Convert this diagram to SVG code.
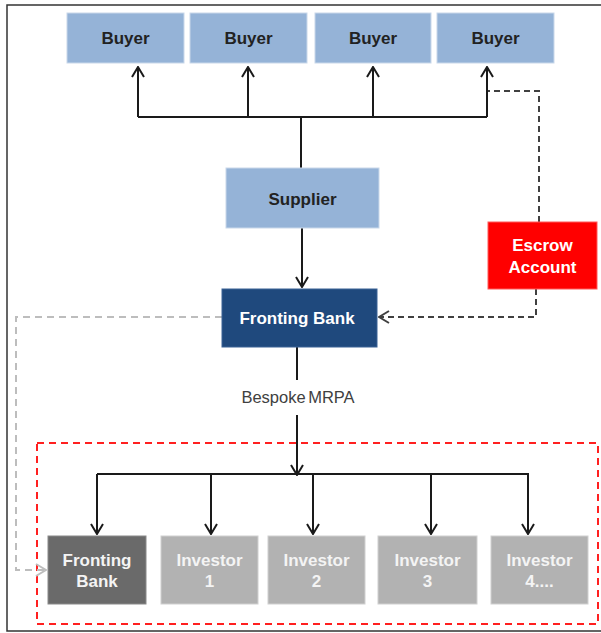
<svg xmlns="http://www.w3.org/2000/svg" width="601" height="633" viewBox="0 0 601 633">
<style>
.t{font-family:"Liberation Sans",Arial,sans-serif;font-weight:bold;font-size:17px;text-anchor:middle;dominant-baseline:central}
.dk{fill:#222222}
.wh{fill:#FFFFFF}
.lw{fill:#F4F4F4}
.buyer{fill:#95B3D7;stroke:#C9D8EA;stroke-width:1}
.inv{fill:#B2B2B2;stroke:#D0D0D0;stroke-width:1}
.solid{fill:none;stroke:#1A1A1A;stroke-width:2}
.dash{fill:none;stroke:#404040;stroke-width:2;stroke-dasharray:6,4}
.gdash{fill:none;stroke:#BDBDBD;stroke-width:2;stroke-dasharray:7,5}
</style>
<defs>
<marker id="ah" viewBox="0 0 12 14" refX="11" refY="7" markerWidth="12" markerHeight="14" markerUnits="userSpaceOnUse" orient="auto">
<path d="M1,1 L11,7 L1,13" fill="none" stroke="#1A1A1A" stroke-width="2"/>
</marker>
<marker id="ahd" viewBox="0 0 12 14" refX="11" refY="7" markerWidth="12" markerHeight="14" markerUnits="userSpaceOnUse" orient="auto">
<path d="M1,1 L11,7 L1,13" fill="none" stroke="#404040" stroke-width="2"/>
</marker>
<marker id="ahg" viewBox="0 0 12 14" refX="11" refY="7" markerWidth="12" markerHeight="14" markerUnits="userSpaceOnUse" orient="auto">
<path d="M1,1 L11,7 L1,13" fill="none" stroke="#BDBDBD" stroke-width="2"/>
</marker>
</defs>
<rect x="0" y="0" width="601" height="633" fill="#FFFFFF"/>
<path d="M606,5 H7 V631 H606" fill="none" stroke="#333333" stroke-width="1.5"/>
<rect id="investor-pool" x="37" y="443" width="561" height="181" fill="none" stroke="#FF2020" stroke-width="2" stroke-dasharray="7,5"/>

<g id="connectors">
<path class="solid" d="M138,117 H487"/>
<path class="solid" d="M301,168 V117"/>
<path class="solid" d="M138,117 V67" marker-end="url(#ah)"/>
<path class="solid" d="M248,117 V67" marker-end="url(#ah)"/>
<path class="solid" d="M373,117 V67" marker-end="url(#ah)"/>
<path class="solid" d="M487,117 V67" marker-end="url(#ah)"/>
<path class="solid" d="M302,228 V287" marker-end="url(#ah)"/>
<path class="dash" d="M539,222 V91 H488"/>
<path class="dash" d="M536,289 V317 H379" marker-end="url(#ahd)"/>
<path class="gdash" d="M222,317 H16 V570 H46" marker-end="url(#ahg)"/>
<path class="solid" d="M297,347 V380"/>
<path class="solid" d="M297,415 V475" marker-end="url(#ah)"/>
<path class="solid" d="M97,474 H529"/>
<path class="solid" d="M97,474 V534" marker-end="url(#ah)"/>
<path class="solid" d="M211,474 V534" marker-end="url(#ah)"/>
<path class="solid" d="M313,474 V534" marker-end="url(#ah)"/>
<path class="solid" d="M431,474 V534" marker-end="url(#ah)"/>
<path class="solid" d="M528,474 V534" marker-end="url(#ah)"/>
<text x="298" y="397" font-family="'Liberation Sans',Arial,sans-serif" font-size="16.5" word-spacing="-2" fill="#404040" text-anchor="middle" dominant-baseline="central">Bespoke MRPA</text>
</g>

<g id="buyer1"><rect class="buyer" x="67" y="13" width="117" height="50"/><text class="t dk" x="125.5" y="38">Buyer</text></g>
<g id="buyer2"><rect class="buyer" x="190" y="13" width="117" height="50"/><text class="t dk" x="248.5" y="38">Buyer</text></g>
<g id="buyer3"><rect class="buyer" x="315" y="13" width="116" height="50"/><text class="t dk" x="373" y="38">Buyer</text></g>
<g id="buyer4"><rect class="buyer" x="437" y="13" width="117" height="50"/><text class="t dk" x="495.5" y="38">Buyer</text></g>

<g id="supplier"><rect class="buyer" x="226" y="168" width="153" height="60"/><text class="t dk" x="302.5" y="199">Supplier</text></g>

<g id="fronting-bank"><rect x="222" y="289" width="155" height="58" fill="#1F497D" stroke="#3A6296" stroke-width="1"/><text class="t wh" x="297" y="318">Fronting Bank</text></g>

<g id="escrow"><rect x="488" y="222" width="109" height="67" fill="#FF0000" stroke="#FF5A5A" stroke-width="1"/><text class="t wh" x="542.5" y="245">Escrow</text><text class="t wh" x="542.5" y="267">Account</text></g>

<g id="fronting-bank-2"><rect x="48" y="536" width="98" height="68" fill="#6A6A6A" stroke="#8A8A8A" stroke-width="1"/><text class="t lw" x="97" y="560">Fronting</text><text class="t lw" x="97" y="581">Bank</text></g>
<g id="investor1"><rect class="inv" x="161" y="536" width="97" height="68"/><text class="t lw" x="209.5" y="560">Investor</text><text class="t lw" x="209.5" y="581">1</text></g>
<g id="investor2"><rect class="inv" x="268" y="536" width="97" height="68"/><text class="t lw" x="316.5" y="560">Investor</text><text class="t lw" x="316.5" y="581">2</text></g>
<g id="investor3"><rect class="inv" x="378" y="536" width="99" height="68"/><text class="t lw" x="427.5" y="560">Investor</text><text class="t lw" x="427.5" y="581">3</text></g>
<g id="investor4"><rect class="inv" x="491" y="536" width="97" height="68"/><text class="t lw" x="539.5" y="560">Investor</text><text class="t lw" x="539.5" y="581">4....</text></g>
</svg>
